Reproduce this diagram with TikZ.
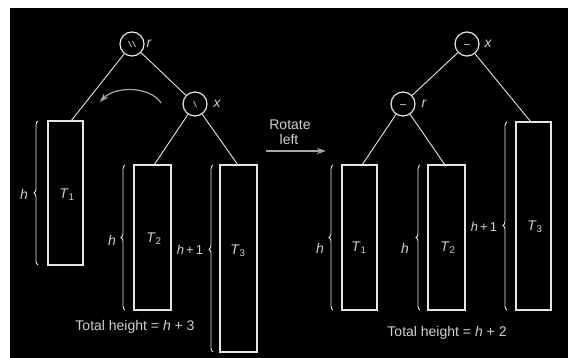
\documentclass[tikz,border=0pt]{standalone}
\usepackage{fontspec}
\setmainfont{Liberation Sans}
\usetikzlibrary{decorations.pathreplacing,arrows.meta}
\definecolor{ln}{HTML}{E6E6E6}
\definecolor{tx}{HTML}{D0D0D0}
\definecolor{dim}{HTML}{A8A8A8}
\tikzset{
  bnode/.style={circle,draw=ln,line width=1.2pt,minimum size=24pt,inner sep=0pt},
  tbox/.style={draw=ln,line width=1.3pt,inner sep=0pt,rectangle},
  edge/.style={draw=ln,line width=0.9pt},
  lbl/.style={text=tx,font=\fontsize{14}{16}\selectfont,inner sep=0pt},
  ilbl/.style={lbl,font=\fontsize{14}{16}\selectfont\itshape},
  slbl/.style={lbl,font=\fontsize{13}{15}\selectfont},
  brc/.style={draw=ln,line width=0.9pt,decorate,decoration={brace,amplitude=4pt}},
  sym/.style={draw=dim,line width=1pt},
  rotarrow/.style={draw=dim,line width=1.2pt,-{Stealth[length=9pt,width=6pt]}}
}
\newcommand\Tn[1]{\textit{T}\textsubscript{#1}}
\begin{document}
\begin{tikzpicture}[x=1pt,y=-1pt]
\useasboundingbox (0,0) rectangle (568,358);
\fill[white] (0,0) rectangle (568,358);
\fill[black] (10,8) rectangle (568,358);

% ---------- left tree ----------
\node[bnode] (rL) at (132,44) {};
\node[bnode] (xL) at (195,104) {};
\node[ilbl] (rLl) at (149,44) {r};
\node[ilbl] (xLl) at (217,104) {x};
\draw[sym] ([shift={(-3.5,-3)}]rL.center) -- ([shift={(-0.5,3)}]rL.center);
\draw[sym] ([shift={(0.5,-3)}]rL.center) -- ([shift={(3.5,3)}]rL.center);
\draw[sym] ([shift={(-1.5,-3)}]xL.center) -- ([shift={(1.5,3)}]xL.center);

\node[tbox,minimum width=35pt,minimum height=144pt] (T1L) at (65.5,193) {};
\node[tbox,minimum width=37pt,minimum height=145pt] (T2L) at (152.5,237.5) {};
\node[tbox,minimum width=37pt,minimum height=187pt] (T3L) at (238.5,258.5) {};
\coordinate (a1) at (71,121);
\coordinate (a2) at (154,165);
\coordinate (a3) at (238,165);
\draw[edge] (rL) -- (a1);
\draw[edge] (rL) -- (xL);
\draw[edge] (xL) -- (a2);
\draw[edge] (xL) -- (a3);

\node[lbl] (t1L) at (67,195) {\Tn{1}};
\node[lbl] (t2L) at (154,239) {\Tn{2}};
\node[lbl] (t3L) at (238,251) {\Tn{3}};

\draw[brc] (38,265) -- (38,121);
\draw[brc] (125,310) -- (125,165);
\draw[brc,decoration={brace,amplitude=4pt,aspect=0.55}] (213,352) -- (213,165);
\node[ilbl] (h1L) at (24,194) {h};
\node[ilbl] (h2L) at (112,240) {h};
\node[slbl] (h3L) at (190,250) {\textit{h}\,+\,1};

\node[lbl] (totL) at (135,327) {Total height = \textit{h} + 3};

\coordinate (cs) at (161,103);
\coordinate (ce) at (100,102);
\draw[rotarrow] (cs) .. controls (150,86) and (115,86) .. (ce);

% ---------- middle ----------
\node[lbl] (rot) at (290,125) {Rotate};
\node[lbl] (left) at (289,139) {left};
\coordinate (ms) at (266,151);
\coordinate (me) at (326,151);
\draw[rotarrow] (ms) -- (me);

% ---------- right tree ----------
\node[bnode] (xR) at (467,44) {};
\node[bnode] (rR) at (403,104) {};
\node[ilbl] (xRl) at (488,44) {x};
\node[ilbl] (rRl) at (424,104) {r};
\draw[sym] ([shift={(-3,1)}]xR.center) -- ([shift={(3,1)}]xR.center);
\draw[sym] ([shift={(-3,1)}]rR.center) -- ([shift={(3,1)}]rR.center);

\node[tbox,minimum width=35pt,minimum height=145pt] (T1R) at (359.5,237.5) {};
\node[tbox,minimum width=37pt,minimum height=145pt] (T2R) at (446.5,237.5) {};
\node[tbox,minimum width=35pt,minimum height=188pt] (T3R) at (533.5,216) {};
\coordinate (b1) at (362,165);
\coordinate (b2) at (445,165);
\coordinate (b3) at (531,122);
\draw[edge] (xR) -- (rR);
\draw[edge] (xR) -- (b3);
\draw[edge] (rR) -- (b1);
\draw[edge] (rR) -- (b2);

\node[lbl] (t1R) at (359,248) {\Tn{1}};
\node[lbl] (t2R) at (448,248) {\Tn{2}};
\node[lbl] (t3R) at (535,227) {\Tn{3}};

\draw[brc] (333,310) -- (333,165);
\draw[brc] (420,310) -- (420,165);
\draw[brc,decoration={brace,amplitude=4pt,aspect=0.45}] (507,310) -- (507,122);
\node[ilbl] (h1R) at (320,248) {h};
\node[ilbl] (h2R) at (405,248) {h};
\node[slbl] (h3R) at (484,227) {\textit{h}\,+\,1};

\node[lbl] (totR) at (447,333) {Total height = \textit{h} + 2};
\end{tikzpicture}
\end{document}
